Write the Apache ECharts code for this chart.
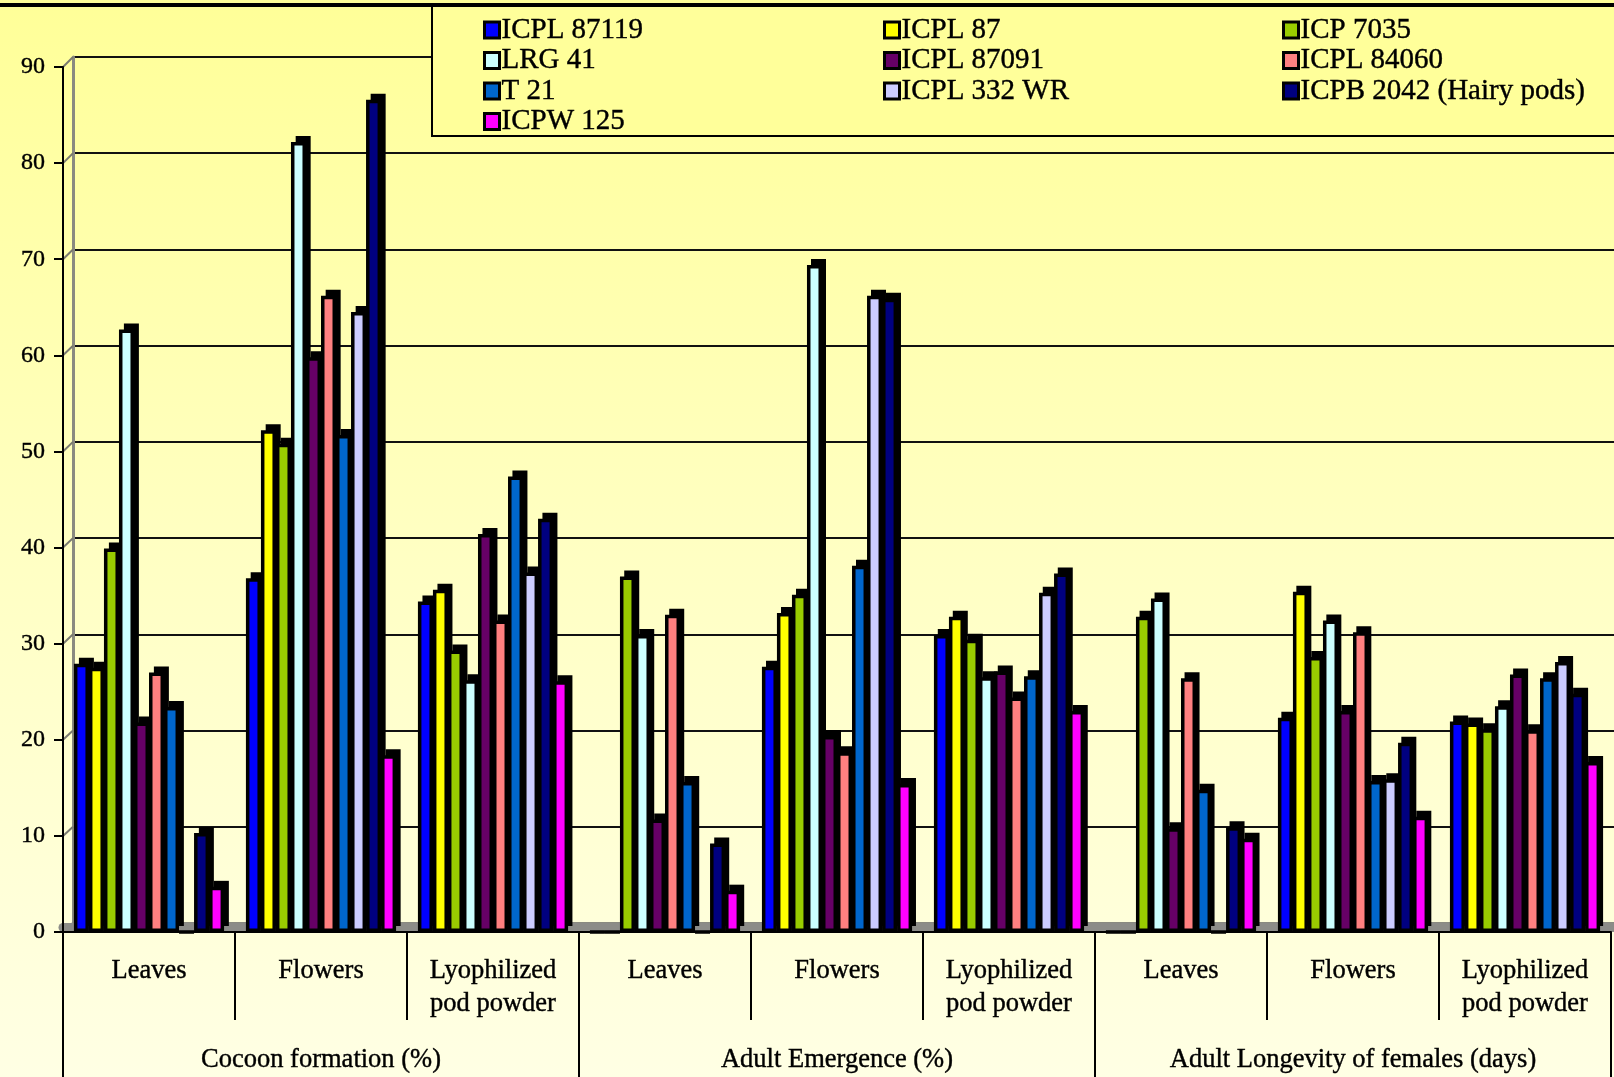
<!DOCTYPE html>
<html>
<head>
<meta charset="utf-8">
<script src="https://cdn.jsdelivr.net/npm/echarts@6/dist/echarts.min.js"></script>
<style>
  html, body { margin: 0; padding: 0; }
  #chart {
    width: 1614px; height: 1077px;
    background: linear-gradient(to bottom, #FFFF98 0%, #FFFFC2 50%, #FFFFE4 100%);
  }
</style>
</head>
<body>
<div id="chart"></div>
<script>
// Sub-group labels (inner category axis) and the three measurements (outer axis)
const groupLabels = [
  'Leaves', 'Flowers', 'Lyophilized\npod powder',
  'Leaves', 'Flowers', 'Lyophilized\npod powder',
  'Leaves', 'Flowers', 'Lyophilized\npod powder'
];
const measureLabels = ['Cocoon formation (%)', 'Adult Emergence (%)', 'Adult Longevity of females (days)'];

// Genotypes
const seriesNames = [
  'ICPL 87119', 'ICPL 87', 'ICP 7035',
  'LRG 41', 'ICPL 87091', 'ICPL 84060',
  'T 21', 'ICPL 332 WR', 'ICPB 2042 (Hairy pods)',
  'ICPW 125'
];
const seriesColors = [
  '#0000FF', '#FFFF00', '#99CC00',
  '#CCFFFF', '#660066', '#FF8080',
  '#0066CC', '#CCCCFF', '#000080',
  '#FF00FF'
];

// Values per genotype, in the order of groupLabels
const icpl87119 = [27.9, 36.8, 34.4, 0, 27.6, 30.9, 0, 22.3, 21.9];
const icpl87    = [27.5, 52.2, 35.6, 0, 33.2, 32.8, 0, 35.4, 21.7];
const icp7035   = [39.9, 50.8, 29.3, 37.0, 35.1, 30.4, 32.8, 28.6, 21.1];
const lrg41     = [62.7, 82.2, 26.2, 30.9, 69.4, 26.5, 34.7, 32.4, 23.5];
const icpl87091 = [21.8, 59.8, 41.4, 11.7, 20.4, 27.1, 10.8, 23.0, 26.8];
const icpl84060 = [27.0, 66.2, 32.4, 33.0, 18.7, 24.4, 26.4, 31.2, 21.0];
const t21       = [23.4, 51.7, 47.4, 15.6, 38.1, 26.6, 14.8, 15.7, 26.4];
const icpl332wr = [0, 64.5, 37.4, 0, 66.2, 35.3, 0, 15.9, 28.1];
const icpb2042  = [10.3, 86.6, 43.0, 9.2, 65.9, 37.3, 10.9, 19.7, 24.8];
const icpw125   = [4.7, 18.4, 26.1, 4.3, 15.4, 23.0, 9.7, 12.0, 17.7];

const seriesValues = [icpl87119, icpl87, icp7035, lrg41, icpl87091, icpl84060, t21, icpl332wr, icpb2042, icpw125];

// Value axis
const yMin = 0, yMax = 90, yStep = 10;

const FONT = '"Liberation Serif", "Times New Roman", serif';
const W = 1614, H = 1077;
// a hairline outline gives the serif text a little more weight
const INK = { color: '#000', textBorderColor: '#000', textBorderWidth: 0.4 };

// front plane (axis), back wall, and the depth offset of each column
const FRONT = { left: 63, top: 67, right: 3, bottom: 145 };
const BACK  = { left: 73, top: 57, right: -12, bottom: 154 };
const DEPTH = { dx: 5, dy: 6 };

const chart = echarts.init(document.getElementById('chart'), null, { renderer: 'canvas' });

const legendCols = [483, 883, 1282];
const BAR_GAP = '12.7%';

// each genotype: a black, shifted copy (side and top of the column) then the coloured front face
const series = [];
seriesNames.forEach((name, i) => {
  series.push({
    type: 'bar',
    name: name + ' depth',
    data: seriesValues[i],
    xAxisIndex: 4, yAxisIndex: 3,
    barGap: '0%', barCategoryGap: BAR_GAP,
    z: 3,
    silent: true,
    itemStyle: { color: '#000', borderColor: '#000', borderWidth: 0 },
    emphasis: { disabled: true }
  });
  series.push({
    type: 'bar',
    name,
    data: seriesValues[i],
    xAxisIndex: 0, yAxisIndex: 0,
    barGap: '0%', barCategoryGap: BAR_GAP,
    z: 3,
    itemStyle: { color: seriesColors[i], borderColor: '#000', borderWidth: 3.5 },
    emphasis: { disabled: true }
  });
});

const option = {
  animation: false,
  backgroundColor: 'transparent',
  textStyle: { fontFamily: FONT },
  grid: [
    { ...FRONT },
    { ...BACK },
    { left: FRONT.left, right: -12, top: 500, bottom: H - 927.5 },
    { left: FRONT.left + DEPTH.dx, right: FRONT.right - DEPTH.dx, top: FRONT.top - DEPTH.dy, bottom: FRONT.bottom + DEPTH.dy }
  ],
  legend: legendCols.map((x, c) => ({
    data: seriesNames.filter((_, i) => i % 3 === c),
    orient: 'vertical',
    left: x, top: 15,
    padding: 0,
    itemGap: 0.5,
    itemWidth: 15, itemHeight: 16,
    icon: 'rect',
    selectedMode: false,
    z: 6,
    itemStyle: { borderColor: '#000', borderWidth: 3 },
    textStyle: { fontFamily: FONT, fontSize: 29, lineHeight: 30, ...INK, padding: [0, 0, 0, -3] }
  })),
  xAxis: [
    {
      type: 'category', gridIndex: 0, position: 'bottom', data: groupLabels, z: 2,
      axisLine: { show: true, lineStyle: { color: '#000', width: 2 } },
      axisTick: { show: true, length: 88, lineStyle: { color: '#000', width: 2 } },
      axisLabel: { interval: 0, margin: 23, fontFamily: FONT, fontSize: 26.5, lineHeight: 33, ...INK },
      splitLine: { show: false }
    },
    {
      type: 'category', gridIndex: 0, position: 'bottom', data: measureLabels, z: 2,
      axisLine: { show: false },
      axisTick: { show: true, length: 145, lineStyle: { color: '#000', width: 2 } },
      axisLabel: { interval: 0, margin: 113, fontFamily: FONT, fontSize: 26.5, lineHeight: 30, ...INK },
      splitLine: { show: false }
    },
    {
      type: 'category', gridIndex: 1, position: 'top', data: groupLabels, z: 1,
      axisLine: { show: true, lineStyle: { color: '#8a8a80', width: 3 } },
      axisTick: { show: false }, axisLabel: { show: false }, splitLine: { show: false }
    },
    {
      type: 'category', gridIndex: 2, position: 'bottom', data: groupLabels, z: 1,
      axisLine: { show: true, lineStyle: { color: '#8c8c88', width: 9 } },
      axisTick: { show: false }, axisLabel: { show: false }, splitLine: { show: false }
    },
    {
      type: 'category', gridIndex: 3, position: 'bottom', data: groupLabels, show: false
    }
  ],
  yAxis: [
    {
      type: 'value', gridIndex: 0, min: yMin, max: yMax, interval: yStep, z: 2,
      axisLine: { show: true, lineStyle: { color: '#000', width: 2 } },
      axisTick: { show: true, length: 9, lineStyle: { color: '#000', width: 2 } },
      axisLabel: { margin: 18, fontFamily: FONT, fontSize: 24, ...INK },
      splitLine: { show: false }
    },
    {
      type: 'value', gridIndex: 1, min: yMin, max: yMax, interval: yStep, z: 0,
      axisLine: { show: true, lineStyle: { color: '#8a8a80', width: 3 } },
      axisTick: { show: false }, axisLabel: { show: false },
      splitLine: { show: true, lineStyle: { color: '#111', width: 2 } }
    },
    {
      type: 'value', gridIndex: 2, min: 0, max: 1, show: false
    },
    {
      type: 'value', gridIndex: 3, min: yMin, max: yMax, interval: yStep, show: false
    }
  ],
  series,
  graphic: [
    { type: 'rect', z: 4, shape: { x: 432, y: 5, width: 1200, height: 131 },
      style: { fill: '#FFFF9A', stroke: '#000', lineWidth: 2 } },
    { type: 'rect', z: 7, shape: { x: 0, y: 3, width: W, height: 4 }, style: { fill: '#000' } }
  ]
};

chart.setOption(option);

// slanted connectors from each front tick to its back-wall gridline
const connectors = [];
for (let v = yMin; v <= yMax; v += yStep) {
  const yf = chart.convertToPixel({ yAxisIndex: 0 }, v);
  const yb = chart.convertToPixel({ yAxisIndex: 1 }, v);
  connectors.push({
    type: 'line', z: 1,
    shape: { x1: FRONT.left, y1: yf, x2: BACK.left, y2: yb },
    style: { stroke: '#7a7a70', lineWidth: 2 }
  });
}
chart.setOption({ graphic: option.graphic.concat(connectors) });
</script>
</body>
</html>
